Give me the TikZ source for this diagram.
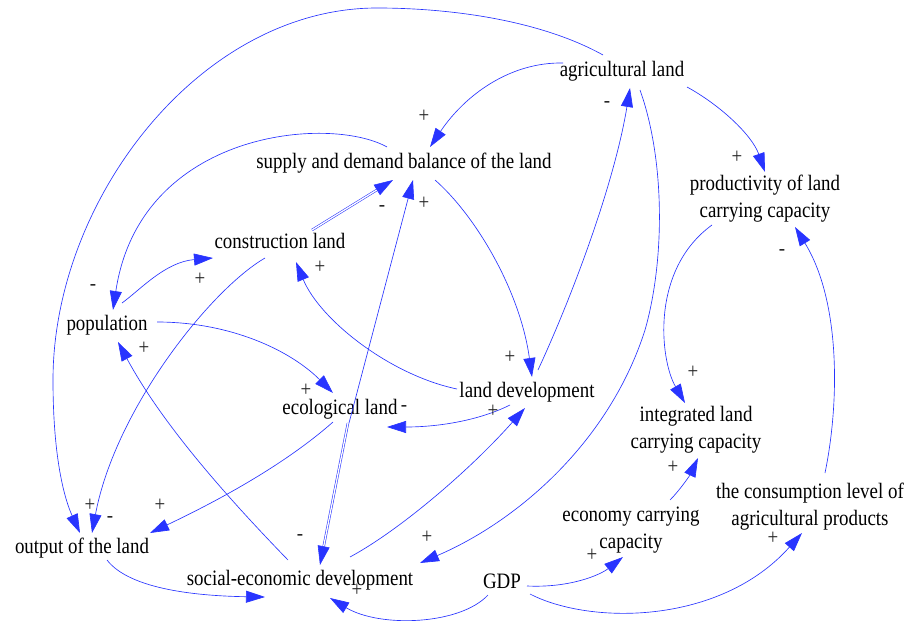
\documentclass[tikz,border=0pt]{standalone}
\usepackage{fontspec}
\setmainfont{Liberation Serif}[FakeStretch=0.86]
\usetikzlibrary{arrows.meta}
\definecolor{vblue}{RGB}{40,52,255}
\tikzset{
  var/.style={anchor=base, font=\fontsize{22}{27}\selectfont, align=center, inner sep=0pt, text=black},
  pol/.style={font=\fontsize{22}{22}\selectfont, inner sep=0pt, text=black!85},
  link/.style={draw=vblue, line width=0.65pt, -{Triangle[length=19pt,width=12pt]}},
  dlink/.style={draw=vblue, line width=0.55pt, double=white, double distance=1.3pt, -{Triangle[length=19pt,width=12pt]}}
}
\begin{document}
\begin{tikzpicture}[x=1pt,y=-1pt]
\path[use as bounding box] (0,0) rectangle (907,626);

% variables (base = baseline of the last line)
\node[var] (AG) at (622,77) {agricultural land};
\node[var] (SD) at (404,168) {supply and demand balance of the land};
\node[var] (PR) at (765,217) {productivity of land\\carrying capacity};
\node[var] (CL) at (280,248) {construction land};
\node[var] (PO) at (107,330) {population};
\node[var] (EL) at (340,414) {ecological land};
\node[var] (LD) at (527,397) {land development};
\node[var] (IL) at (696,448) {integrated land\\carrying capacity};
\node[var] (CO) at (810,525) {the consumption level of\\agricultural products};
\node[var] (EC) at (631,548) {economy carrying\\capacity};
\node[var] (OL) at (82,553) {output of the land};
\node[var] (SE) at (300,585) {social-economic development};
\node[var] (GDP) at (502,588) {GDP};

% connectors
\draw[link] ([shift={(-19,-22)}]AG.base) .. controls (540,20) and (450,8) .. (377,8)
  .. controls (200,8) and (53,200) .. (53,380) .. controls (53,460) and (65,500) .. ([shift={(-2,-20)}]OL.base);
\draw[link] ([shift={(-59,-14)}]AG.base) .. controls (510,62) and (465,95) .. ([shift={(26,-21)}]SD.base);
\draw[link] ([shift={(65,10)}]AG.base) .. controls (720,105) and (752,135) .. ([shift={(0,-45)}]PR.base);
\draw[link] ([shift={(11,-27)}]LD.base) .. controls (575,290) and (615,180) .. ([shift={(8,11)}]AG.base);
\draw[link] ([shift={(18,13)}]AG.base) .. controls (665,160) and (665,260) .. (645,330)
  .. controls (610,440) and (520,520) .. ([shift={(120,-22)}]SE.base);
\draw[link] ([shift={(31,12)}]SD.base) .. controls (475,215) and (520,290) .. ([shift={(5,-20)}]LD.base);
\draw[link] ([shift={(-17,-21)}]SD.base) .. controls (330,115) and (140,130) .. ([shift={(6,-20)}]PO.base);
\draw[dlink] ([shift={(32,-18)}]CL.base) -- ([shift={(-11,12)}]SD.base);
\draw[link] ([shift={(9,9)}]EL.base) -- ([shift={(9,12)}]SD.base);
\draw[link] ([shift={(15,-27)}]PO.base) .. controls (140,290) and (165,262) .. ([shift={(-67,10)}]CL.base);
\draw[link] ([shift={(-15,10)}]CL.base) .. controls (210,290) and (115,410) .. ([shift={(10,-20)}]OL.base);
\draw[link] ([shift={(-70,-8)}]LD.base) .. controls (390,375) and (320,320) .. ([shift={(16,14)}]CL.base);
\draw[link] ([shift={(50,-8)}]PO.base) .. controls (230,322) and (290,350) .. ([shift={(-7,-21)}]EL.base);
\draw[link] ([shift={(-12,-25)}]SE.base) .. controls (220,490) and (160,420) .. ([shift={(11,12)}]PO.base);
\draw[link] ([shift={(-17,8)}]LD.base) .. controls (480,420) and (440,427) .. ([shift={(47,13)}]EL.base);
\draw[link] ([shift={(-7,8)}]EL.base) .. controls (290,460) and (230,495) .. ([shift={(68,-20)}]OL.base);
\draw[dlink] ([shift={(8,9)}]EL.base) -- ([shift={(20,-20)}]SE.base);
\draw[link] ([shift={(50,-28)}]SE.base) .. controls (400,530) and (470,470) .. ([shift={(-2,11)}]LD.base);
\draw[link] ([shift={(25,7)}]OL.base) .. controls (130,590) and (200,596) .. ([shift={(-35,12)}]SE.base);
\draw[link] ([shift={(-14,7)}]GDP.base) .. controls (460,625) and (380,628) .. ([shift={(30,13)}]SE.base);
\draw[link] ([shift={(25,-2)}]GDP.base) .. controls (570,588) and (600,575) .. ([shift={(-8,9)}]EC.base);
\draw[link] ([shift={(28,6)}]GDP.base) .. controls (590,625) and (720,625) .. ([shift={(-8,8)}]CO.base);
\draw[link] ([shift={(39,-48)}]EC.base) .. controls (680,490) and (690,475) .. ([shift={(2,10)}]IL.base);
\draw[link] ([shift={(-53,8)}]PR.base) .. controls (650,270) and (660,360) .. ([shift={(-11,-45)}]IL.base);
\draw[link] ([shift={(15,-52)}]CO.base) .. controls (840,400) and (840,300) .. ([shift={(30,10)}]PR.base);

% polarities
\node[pol] (p1) at (424,116) {+};
\node[pol] (p2) at (737,157) {+};
\node[pol] (p3) at (607,104) {-};
\node[pol] (p4) at (510,357) {+};
\node[pol] (p5) at (93,287) {-};
\node[pol] (p6) at (382,208) {-};
\node[pol] (p7) at (424,203) {+};
\node[pol] (p8) at (200,279) {+};
\node[pol] (p9) at (320,267) {+};
\node[pol] (p10) at (144,348) {+};
\node[pol] (p11) at (306,390) {+};
\node[pol] (p12) at (404,408) {-};
\node[pol] (p13) at (493,411) {+};
\node[pol] (p14) at (90,505) {+};
\node[pol] (p15) at (110,519) {-};
\node[pol] (p16) at (160,505) {+};
\node[pol] (p17) at (300,537) {-};
\node[pol] (p18) at (427,537) {+};
\node[pol] (p19) at (357,590) {+};
\node[pol] (p20) at (592,555) {+};
\node[pol] (p21) at (773,538) {+};
\node[pol] (p22) at (673,467) {+};
\node[pol] (p23) at (693,372) {+};
\node[pol] (p24) at (782,252) {-};
\end{tikzpicture}
\end{document}
